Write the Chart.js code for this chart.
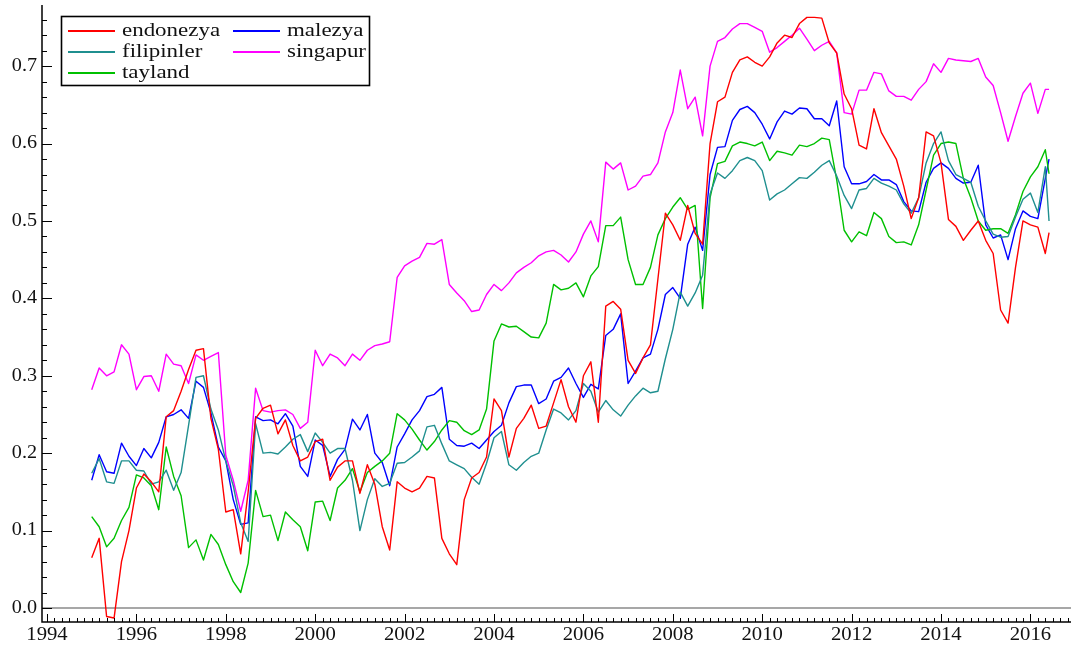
<!DOCTYPE html>
<html>
<head>
<meta charset="utf-8">
<script src="https://cdn.jsdelivr.net/npm/chart.js@4.4.1/dist/chart.umd.min.js"></script>
<style>
html,body{margin:0;padding:0;background:#fff;}
canvas{display:block;}
</style>
</head>
<body>
<canvas id="c" width="1071" height="649"></canvas>
<script>
// bi-monthly observation dates (YYYY-MM)
const months = [
'1995-01','1995-03','1995-05','1995-07','1995-09','1995-11',
'1996-01','1996-03','1996-05','1996-07','1996-09','1996-11',
'1997-01','1997-03','1997-05','1997-07','1997-09','1997-11',
'1998-01','1998-03','1998-05','1998-07','1998-09','1998-11',
'1999-01','1999-03','1999-05','1999-07','1999-09','1999-11',
'2000-01','2000-03','2000-05','2000-07','2000-09','2000-11',
'2001-01','2001-03','2001-05','2001-07','2001-09','2001-11',
'2002-01','2002-03','2002-05','2002-07','2002-09','2002-11',
'2003-01','2003-03','2003-05','2003-07','2003-09','2003-11',
'2004-01','2004-03','2004-05','2004-07','2004-09','2004-11',
'2005-01','2005-03','2005-05','2005-07','2005-09','2005-11',
'2006-01','2006-03','2006-05','2006-07','2006-09','2006-11',
'2007-01','2007-03','2007-05','2007-07','2007-09','2007-11',
'2008-01','2008-03','2008-05','2008-07','2008-09','2008-11',
'2009-01','2009-03','2009-05','2009-07','2009-09','2009-11',
'2010-01','2010-03','2010-05','2010-07','2010-09','2010-11',
'2011-01','2011-03','2011-05','2011-07','2011-09','2011-11',
'2012-01','2012-03','2012-05','2012-07','2012-09','2012-11',
'2013-01','2013-03','2013-05','2013-07','2013-09','2013-11',
'2014-01','2014-03','2014-05','2014-07','2014-09','2014-11',
'2015-01','2015-03','2015-05','2015-07','2015-09','2015-11',
'2016-01','2016-03','2016-05','2016-06'];

const endonezya = [
0.065,0.09,-0.011,-0.013,0.06,0.1,0.155,0.173,0.163,0.15,
0.247,0.255,0.28,0.308,0.333,0.335,0.245,0.205,0.124,0.127,
0.07,0.15,0.245,0.258,0.262,0.225,0.243,0.21,0.19,0.195,
0.215,0.218,0.165,0.182,0.19,0.19,0.148,0.185,0.16,0.105,
0.075,0.163,0.155,0.15,0.155,0.17,0.168,0.09,0.07,0.056,
0.14,0.168,0.175,0.195,0.27,0.255,0.195,0.232,0.245,0.262,
0.232,0.235,0.265,0.295,0.26,0.24,0.3,0.318,0.24,0.39,
0.396,0.386,0.32,0.303,0.323,0.34,0.425,0.51,0.495,0.475,
0.52,0.484,0.47,0.6,0.654,0.66,0.692,0.708,0.712,0.705,
0.7,0.712,0.73,0.74,0.737,0.755,0.763,0.763,0.762,0.73,
0.717,0.664,0.645,0.598,0.593,0.645,0.614,0.597,0.58,0.545,
0.503,0.53,0.615,0.61,0.575,0.502,0.493,0.475,0.488,0.5,
0.475,0.458,0.385,0.368,0.44,0.5,0.495,0.492,0.458,0.485];

const filipinler = [
0.174,0.193,0.163,0.161,0.19,0.19,0.178,0.177,0.16,0.163,
0.178,0.152,0.175,0.236,0.298,0.3,0.257,0.23,0.19,0.158,
0.11,0.086,0.238,0.2,0.201,0.199,0.208,0.218,0.224,0.202,
0.226,0.214,0.2,0.206,0.206,0.165,0.1,0.14,0.167,0.157,
0.161,0.187,0.188,0.195,0.203,0.234,0.236,0.212,0.19,0.185,
0.18,0.169,0.16,0.187,0.22,0.228,0.185,0.178,0.188,0.196,
0.2,0.23,0.257,0.252,0.243,0.255,0.29,0.28,0.253,0.268,
0.256,0.248,0.262,0.274,0.284,0.278,0.28,0.322,0.36,0.408,
0.39,0.407,0.43,0.535,0.562,0.555,0.565,0.578,0.582,0.578,
0.565,0.527,0.535,0.54,0.548,0.556,0.555,0.563,0.572,0.578,
0.558,0.533,0.516,0.54,0.542,0.555,0.549,0.545,0.54,0.522,
0.51,0.53,0.575,0.6,0.615,0.578,0.56,0.555,0.55,0.519,
0.5,0.483,0.479,0.48,0.505,0.528,0.536,0.511,0.57,0.5];

const tayland = [
0.118,0.105,0.079,0.09,0.113,0.13,0.172,0.168,0.158,0.127,
0.208,0.17,0.145,0.078,0.088,0.062,0.095,0.082,0.056,0.034,
0.02,0.058,0.152,0.118,0.12,0.087,0.124,0.114,0.105,0.074,
0.137,0.138,0.113,0.155,0.165,0.18,0.15,0.175,0.183,0.19,
0.2,0.251,0.243,0.231,0.217,0.204,0.215,0.23,0.242,0.24,
0.229,0.224,0.23,0.257,0.345,0.367,0.363,0.364,0.357,0.35,
0.349,0.368,0.418,0.411,0.413,0.42,0.402,0.429,0.441,0.494,
0.494,0.505,0.45,0.418,0.418,0.44,0.482,0.503,0.518,0.53,
0.515,0.52,0.387,0.53,0.574,0.577,0.597,0.602,0.6,0.597,
0.602,0.578,0.59,0.588,0.585,0.598,0.596,0.6,0.607,0.605,
0.553,0.488,0.473,0.486,0.481,0.511,0.503,0.48,0.472,0.473,
0.469,0.495,0.54,0.585,0.6,0.602,0.6,0.555,0.53,0.5,
0.488,0.49,0.49,0.484,0.508,0.538,0.557,0.57,0.592,0.561];

const malezya = [
0.165,0.198,0.176,0.174,0.213,0.196,0.184,0.206,0.194,0.214,
0.247,0.25,0.256,0.245,0.293,0.285,0.252,0.208,0.19,0.14,
0.108,0.11,0.247,0.242,0.243,0.238,0.251,0.235,0.183,0.17,
0.217,0.21,0.17,0.192,0.205,0.244,0.23,0.25,0.2,0.188,
0.158,0.208,0.225,0.243,0.255,0.273,0.276,0.285,0.218,0.21,
0.209,0.213,0.206,0.217,0.228,0.236,0.265,0.286,0.288,0.288,
0.264,0.27,0.293,0.298,0.31,0.29,0.272,0.289,0.283,0.352,
0.36,0.38,0.29,0.306,0.323,0.328,0.36,0.405,0.414,0.4,
0.47,0.492,0.462,0.56,0.595,0.596,0.63,0.644,0.648,0.64,
0.625,0.606,0.628,0.642,0.638,0.646,0.645,0.632,0.632,0.623,
0.655,0.57,0.548,0.548,0.551,0.56,0.553,0.553,0.547,0.525,
0.513,0.512,0.55,0.568,0.575,0.568,0.555,0.549,0.55,0.572,
0.495,0.478,0.482,0.45,0.49,0.513,0.506,0.503,0.555,0.58];

const singapur = [
0.282,0.31,0.3,0.305,0.34,0.328,0.282,0.299,0.3,0.28,
0.328,0.315,0.313,0.29,0.327,0.32,0.325,0.33,0.197,0.165,
0.125,0.165,0.284,0.255,0.253,0.255,0.256,0.25,0.232,0.24,
0.333,0.313,0.328,0.323,0.313,0.328,0.32,0.333,0.339,0.341,
0.344,0.427,0.442,0.448,0.453,0.471,0.47,0.476,0.418,0.407,
0.397,0.383,0.385,0.405,0.418,0.41,0.42,0.433,0.44,0.446,
0.455,0.46,0.462,0.456,0.447,0.46,0.483,0.5,0.473,0.576,
0.567,0.575,0.54,0.545,0.558,0.56,0.575,0.615,0.64,0.695,
0.645,0.66,0.61,0.7,0.732,0.737,0.748,0.755,0.755,0.75,
0.745,0.718,0.724,0.732,0.74,0.749,0.735,0.72,0.727,0.732,
0.717,0.64,0.638,0.669,0.669,0.692,0.69,0.668,0.661,0.661,
0.656,0.67,0.68,0.703,0.692,0.71,0.708,0.707,0.706,0.71,
0.686,0.675,0.64,0.603,0.635,0.665,0.678,0.639,0.67,0.67];

const seriesNames = ['endonezya','filipinler','tayland','malezya','singapur'];
const seriesValues = [endonezya, filipinler, tayland, malezya, singapur];
const seriesColors = ['#ff0000','#1f8f8f','#00c000','#0000ff','#ff00ff'];

const xTickLabels = ['1994','1996','1998','2000','2002','2004','2006','2008','2010','2012','2014','2016'];
const yTickLabels = ['0.0','0.1','0.2','0.3','0.4','0.5','0.6','0.7'];

const toYear = s => Number(s.slice(0, 4)) + (Number(s.slice(5, 7)) - 1) / 12;
const FONT = '"Liberation Serif","Times New Roman",serif';

function stText(ctx, text, x, y, align, baseline, sx, font) {
  ctx.save();
  ctx.font = font;
  ctx.textAlign = align;
  ctx.textBaseline = baseline;
  ctx.translate(x, y);
  ctx.scale(sx, 1);
  ctx.fillText(text, 0, 0);
  ctx.restore();
}

const decor = {
  id: 'decor',
  beforeDatasetsDraw(chart) {
    const {ctx, chartArea: a, scales: {y}} = chart;
    const py = y.getPixelForValue(0);
    ctx.save();
    ctx.strokeStyle = '#8a8a8a';
    ctx.lineWidth = 1.6;
    ctx.beginPath();
    ctx.moveTo(a.left, py);
    ctx.lineTo(a.right, py);
    ctx.stroke();
    ctx.restore();
  },
  afterDraw(chart) {
    const {ctx, chartArea: a, scales: {x, y}} = chart;
    ctx.save();
    ctx.strokeStyle = '#000';
    ctx.fillStyle = '#000';
    ctx.lineWidth = 1.5;
    ctx.beginPath();
    ctx.moveTo(a.left, a.top);
    ctx.lineTo(a.left, a.bottom);
    ctx.lineTo(a.right, a.bottom);
    ctx.stroke();
    ctx.lineWidth = 1;
    ctx.beginPath();
    for (let k = 0; 1994 + k / 6 <= x.max + 1e-9; k++) {
      const px = Math.round(x.getPixelForValue(1994 + k / 6)) + 0.5;
      const len = (k % 12 === 0) ? 8 : 4;
      ctx.moveTo(px, a.bottom);
      ctx.lineTo(px, a.bottom - len);
    }
    for (let k = 0; k * 0.02 <= y.max + 1e-9; k++) {
      const py = Math.round(y.getPixelForValue(k * 0.02)) + 0.5;
      const len = (k % 5 === 0) ? 10 : 5;
      ctx.moveTo(a.left, py);
      ctx.lineTo(a.left + len, py);
    }
    ctx.stroke();
    ctx.fillStyle = '#111';
    xTickLabels.forEach(t => {
      const px = x.getPixelForValue(parseFloat(t));
      stText(ctx, t, px, a.bottom + 4, 'center', 'top', 1.15, '18px ' + FONT);
    });
    yTickLabels.forEach(t => {
      const py = y.getPixelForValue(parseFloat(t));
      stText(ctx, t, a.left - 5, py, 'right', 'middle', 1.12, '18px ' + FONT);
    });
    // legend box
    ctx.lineWidth = 1.6;
    ctx.strokeStyle = '#000';
    ctx.fillStyle = '#fff';
    ctx.fillRect(61, 16, 309, 70);
    ctx.strokeRect(61.5, 16.5, 308, 69);
    const pos = [[68,31],[68,52],[68,73],[233,31],[233,52]];
    chart.data.datasets.forEach((ds, i) => {
      const [lx, ly] = pos[i];
      ctx.strokeStyle = ds.borderColor;
      ctx.lineWidth = 2;
      ctx.beginPath();
      ctx.moveTo(lx, ly);
      ctx.lineTo(lx + 47, ly);
      ctx.stroke();
      ctx.fillStyle = '#111';
      stText(ctx, ds.label, lx + 54, ly + 5, 'left', 'alphabetic', 1.24, '18.5px ' + FONT);
    });
    ctx.restore();
  }
};

new Chart(document.getElementById('c'), {
  type: 'line',
  data: {
    datasets: seriesNames.map((n, i) => ({
      label: n,
      data: months.map((m, j) => ({x: toYear(m), y: seriesValues[i][j]})),
      borderColor: seriesColors[i],
      backgroundColor: seriesColors[i],
      borderWidth: 1.4,
      pointRadius: 0,
      fill: false,
      tension: 0,
      borderJoinStyle: 'round'
    }))
  },
  options: {
    responsive: false,
    animation: false,
    devicePixelRatio: 1,
    layout: {padding: {top: 5, left: 0, right: 0, bottom: 0}},
    plugins: {legend: {display: false}, tooltip: {enabled: false}},
    scales: {
      x: {
        type: 'linear', min: 1993.888, max: 2016.908,
        grid: {display: false}, border: {display: false},
        ticks: {display: false},
        afterFit(s) { s.height = 27; }
      },
      y: {
        type: 'linear', min: -0.0181, max: 0.779,
        grid: {display: false}, border: {display: false},
        ticks: {display: false},
        afterFit(s) { s.width = 42; }
      }
    }
  },
  plugins: [decor]
});
</script>
</body>
</html>
